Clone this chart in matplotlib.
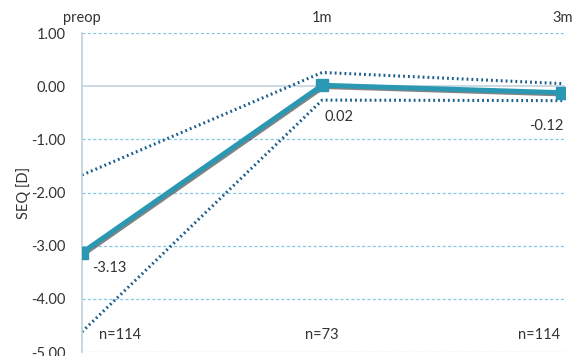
import numpy as np
import matplotlib.pyplot as plt
import matplotlib.patheffects as pe

# SEQ change over follow-up
timepoints = ['preop', '1m', '3m']
seq_mean = [-3.13, 0.02, -0.12]
seq_upper = [-1.67, 0.26, 0.05]
seq_lower = [-4.62, -0.26, -0.27]
n_labels = ['n=114', 'n=73', 'n=114']
yticks = [1.0, 0.0, -1.0, -2.0, -3.0, -4.0, -5.0]

plt.rcParams['font.family'] = ['Lato', 'DejaVu Sans']

fig = plt.figure(figsize=(5.77, 3.56), dpi=100)
ax = fig.add_axes([0.142, 0.011, 0.837, 0.896])

x = np.arange(len(timepoints))

# grid
for yv in yticks:
    if yv == 0:
        ax.axhline(yv, color='#c3d3df', lw=1.2, zorder=1)
    else:
        ax.axhline(yv, color='#86c8e3', lw=0.9, ls=(0, (2.5, 1.8)), zorder=1)

ax.plot(x, seq_upper, color='#1b5e8e', lw=2.2, ls=(0, (0.6, 1.0)), zorder=2)
ax.plot(x, seq_lower, color='#1b5e8e', lw=2.2, ls=(0, (0.6, 1.0)), zorder=2)
ax.plot(x, seq_mean, color='#2a97b3', lw=3.5, zorder=3,
        path_effects=[pe.SimpleLineShadow(offset=(1.0, -1.0), shadow_color='#303030', alpha=0.6),
                      pe.Normal()])
ax.plot(x, seq_mean, ls='none', marker='s', ms=8, color='#2a97b3', zorder=4)

# value labels
ax.annotate('%.2f' % seq_mean[0], (x[0], seq_mean[0]), xytext=(7, -14), textcoords='offset points',
            fontsize=10.5, color='#333333')
ax.annotate('%.2f' % seq_mean[1], (x[1], seq_mean[1]), xytext=(2, -26), textcoords='offset points',
            fontsize=10.5, color='#333333')
ax.annotate('%.2f' % seq_mean[2], (x[2], seq_mean[2]), xytext=(1, -27), textcoords='offset points',
            fontsize=10.5, color='#333333', ha='right')

# sample sizes
ax.text(x[0] + 0.07, -4.68, n_labels[0], fontsize=10.5, color='#333333', ha='left', va='center')
ax.text(x[1], -4.68, n_labels[1], fontsize=10.5, color='#333333', ha='center', va='center')
ax.text(x[2] - 0.01, -4.68, n_labels[2], fontsize=10.5, color='#333333', ha='right', va='center')

ax.set_xlim(0, 2.01)
ax.set_ylim(-5, 1)
ax.set_yticks(yticks)
ax.set_yticklabels(['%.2f' % v for v in yticks], fontsize=10.5, color='#333333')
ax.set_xticks(x)
ax.set_xticklabels(timepoints, fontsize=10.5, color='#333333')
ax.xaxis.tick_top()
ax.tick_params(axis='both', length=0)
ax.tick_params(axis='x', pad=6)
ax.tick_params(axis='y', pad=12)
ax.set_ylabel('SEQ [D]', fontsize=10.5, color='#333333', labelpad=0)

for s in ['top', 'right', 'bottom']:
    ax.spines[s].set_visible(False)
ax.spines['left'].set_color('#bfd0dc')
ax.spines['left'].set_linewidth(1.2)

fig.savefig('out.png', dpi=100)
